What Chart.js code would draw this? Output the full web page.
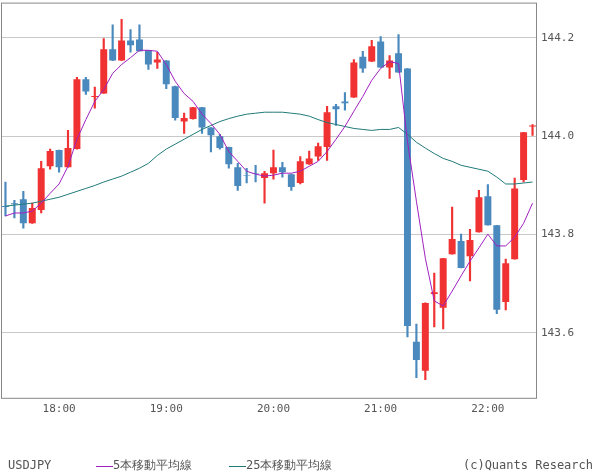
<!DOCTYPE html>
<html><head><meta charset="utf-8">
<script src="https://cdn.jsdelivr.net/npm/chart.js@4"></script>
<style>html,body{margin:0;padding:0;background:#fff;overflow:hidden}#w{width:600px;height:483px;margin-top:-8px}</style>
</head><body><div id="w"><canvas id="c"></canvas></div>
<script>
const times=[];
for(let i=0;i<60;i++){const m=17*60+30+5*i;times.push(String(Math.floor(m/60)).padStart(2,'0')+':'+String(m%60).padStart(2,'0'));}
const opens=[143.858,143.864,143.872,143.823,143.850,143.939,143.972,143.937,143.974,144.116,144.080,144.087,144.177,144.154,144.195,144.197,144.175,144.150,144.154,144.102,144.030,144.035,144.059,144.018,144.000,143.978,143.937,143.921,143.925,143.915,143.925,143.937,143.923,143.905,143.943,143.959,143.978,144.061,144.071,144.079,144.162,144.152,144.193,144.140,144.169,144.138,143.582,143.523,143.679,143.651,143.760,143.787,143.756,143.805,143.878,143.819,143.663,143.750,143.911,144.020];
const highs=[143.907,143.870,143.888,143.864,143.949,143.974,143.972,144.012,144.120,144.120,144.100,144.199,144.227,144.238,144.217,144.227,144.175,144.171,144.154,144.102,144.047,144.059,144.059,144.018,144.004,143.978,143.945,143.935,143.941,143.929,143.972,143.947,143.923,143.959,143.970,143.986,144.061,144.065,144.089,144.156,144.173,144.195,144.203,144.164,144.207,144.138,143.618,143.661,143.722,143.752,143.856,143.801,143.811,143.890,143.902,143.819,143.750,143.915,144.008,144.024];
const lows=[143.838,143.834,143.813,143.823,143.844,143.933,143.927,143.937,143.974,144.085,144.057,144.087,144.154,144.154,144.171,144.173,144.136,144.138,144.097,144.033,144.006,144.035,144.006,143.968,143.974,143.935,143.890,143.905,143.907,143.864,143.913,143.917,143.890,143.903,143.943,143.951,143.951,144.022,144.053,144.079,144.130,144.152,144.140,144.118,144.130,143.592,143.509,143.505,143.612,143.608,143.760,143.732,143.706,143.805,143.819,143.639,143.647,143.750,143.907,144.002];
const closes=[143.856,143.862,143.823,143.854,143.935,143.970,143.937,143.976,144.116,144.091,144.082,144.177,144.154,144.195,144.185,144.173,144.146,144.156,144.106,144.037,144.037,144.059,144.018,144.002,143.976,143.943,143.899,143.920,143.924,143.925,143.937,143.927,143.897,143.949,143.955,143.980,144.049,144.055,144.067,144.150,144.138,144.183,144.140,144.154,144.130,143.614,143.545,143.661,143.683,143.752,143.791,143.732,143.789,143.876,143.819,143.647,143.742,143.894,144.008,144.022];
const ma5=[143.838,143.844,143.844,143.848,143.864,143.884,143.903,143.939,143.994,144.034,144.071,144.095,144.128,144.146,144.160,144.175,144.175,144.173,144.146,144.112,144.087,144.071,144.045,144.026,144.004,143.969,143.949,143.929,143.923,143.919,143.921,143.925,143.925,143.929,143.939,143.949,143.969,143.994,144.020,144.051,144.081,144.114,144.138,144.152,144.148,143.990,143.868,143.752,143.665,143.655,143.685,143.716,143.746,143.773,143.801,143.777,143.777,143.795,143.823,143.864];
const ma25=[143.858,143.860,143.862,143.864,143.868,143.872,143.876,143.882,143.888,143.894,143.900,143.907,143.913,143.919,143.927,143.935,143.945,143.961,143.974,143.984,143.994,144.004,144.014,144.022,144.030,144.036,144.041,144.045,144.047,144.049,144.049,144.049,144.047,144.045,144.041,144.034,144.028,144.024,144.020,144.016,144.014,144.012,144.014,144.014,144.018,144.004,143.988,143.976,143.965,143.955,143.949,143.941,143.937,143.933,143.929,143.917,143.903,143.903,143.905,143.907];
const yTicks=[143.6,143.8,144.0,144.2];

const RED='#f03232',BLUE='#4a89bd';
const col=closes.map((c,i)=>c>=opens[i]?RED:BLUE);
const bottomText={id:'bt',afterDraw(ch){const x=ch.ctx;x.save();x.font='12px "DejaVu Sans Mono", monospace';x.fillStyle='#555';x.textBaseline='middle';
const y=474;x.fillText('USDJPY',8,y);
x.strokeStyle='#a020c0';x.lineWidth=1;x.beginPath();x.moveTo(96,y+0.5);x.lineTo(113,y+0.5);x.stroke();
x.fillText('5本移動平均線',113,y);
x.strokeStyle='#207a78';x.beginPath();x.moveTo(229,y+0.5);x.lineTo(246,y+0.5);x.stroke();
x.fillText('25本移動平均線',246,y);
x.textAlign='right';x.fillText('(c)Quants Research',593,y);
const a=ch.chartArea;x.strokeStyle='#888';x.lineWidth=1;x.strokeRect(a.left+0.5,a.top+0.5,a.right-a.left-1,a.bottom-a.top-1);
x.restore();}};
new Chart(document.getElementById('c'),{
 data:{labels:times,datasets:[
  {type:'line',data:ma5,borderColor:'#a020c0',borderWidth:1,pointRadius:0,tension:0,order:0},
  {type:'line',data:ma25,borderColor:'#207a78',borderWidth:1,pointRadius:0,tension:0,order:0},
  {type:'bar',data:lows.map((l,i)=>[l,highs[i]]),backgroundColor:col,barThickness:1.5,grouped:false,order:2},
  {type:'bar',data:opens.map((o,i)=>[o,closes[i]===o?o+0.002:closes[i]]),backgroundColor:col,barPercentage:0.78,categoryPercentage:1,grouped:false,order:1}
 ]},
 options:{responsive:true,maintainAspectRatio:false,animation:false,
  layout:{padding:{left:1,right:0,top:0,bottom:55}},
  plugins:{legend:{display:false},tooltip:{enabled:false}},
  scales:{
   x:{offset:true,grid:{offset:false,color:c=>times[c.index]&&times[c.index].endsWith(':00')?'#c8c8c8':'rgba(0,0,0,0)',drawTicks:false},border:{display:false},
      ticks:{autoSkip:false,maxRotation:0,padding:4,color:'#555',font:{family:'DejaVu Sans Mono',size:11},callback:(v,i)=>times[i].endsWith(':00')?times[i]:null}},
   y:{position:'right',min:143.466,max:144.272,afterBuildTicks:s=>{s.ticks=yTicks.map(v=>({value:v}));},
      grid:{color:'#c8c8c8',drawTicks:false},border:{display:false},
      ticks:{padding:4,color:'#555',font:{family:'DejaVu Sans Mono',size:11},callback:v=>v.toFixed(1)},afterFit:s=>{s.width=63;}}
  }},
 plugins:[bottomText]});
</script></body></html>
